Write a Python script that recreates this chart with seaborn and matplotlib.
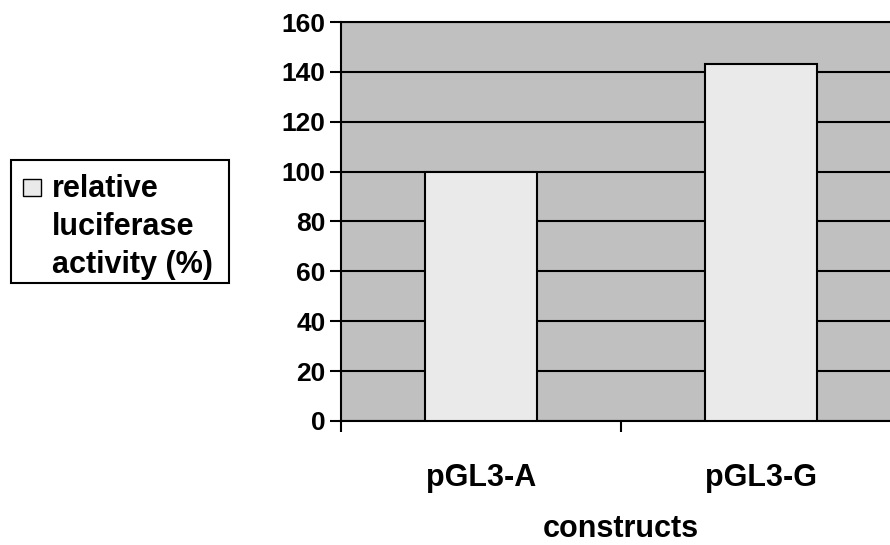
import matplotlib
matplotlib.use("Agg")
import matplotlib.pyplot as plt
from matplotlib.patches import Rectangle
import seaborn as sns
import pandas as pd

# values
constructs = ["pGL3-A", "pGL3-G"]
activity = [100, 143]
series_lines = ["relative", "luciferase", "activity (%)"]

sns.set_style("white")
plt.rcParams["font.family"] = ["Liberation Sans", "DejaVu Sans"]
plt.rcParams["font.weight"] = "bold"
plt.rcParams["text.color"] = "black"
plt.rcParams["xtick.color"] = "black"
plt.rcParams["ytick.color"] = "black"
plt.rcParams["axes.labelcolor"] = "black"

fs = 19     # y tick labels
fs_big = 22  # category labels, axis title, legend

W, H = 890, 545
bar_col = "#eaeaea"

df = pd.DataFrame({"construct": constructs, "activity": activity})

fig = plt.figure(figsize=(W / 100, H / 100), dpi=100)
ax = fig.add_axes([341 / W, 124 / H, 560 / W, 399 / H])
ax.set_facecolor("#c0c0c0")

sns.barplot(data=df, x="construct", y="activity", color=bar_col,
            edgecolor="black", linewidth=1.5, width=0.4, saturation=1, ax=ax, zorder=3)

ax.set_xlim(-0.5, 1.5)
ax.set_ylim(0, 160)
ax.set_yticks(range(0, 161, 20))
ax.yaxis.grid(True, color="black", linewidth=1.5, zorder=0)
ax.set_axisbelow(True)

ax.set_xticks([-0.5, 0.5, 1.5], minor=True)
ax.tick_params(axis="x", which="minor", bottom=True, length=8, width=1.5, color="black", direction="out")
ax.tick_params(axis="x", which="major", bottom=True, length=0, pad=30, labelsize=fs_big)
ax.tick_params(axis="y", left=True, length=8, width=1.5, color="black", direction="out", pad=3, labelsize=fs)
for lab in ax.get_xticklabels() + ax.get_yticklabels():
    lab.set_fontweight("bold")

for s in ["top", "right"]:
    ax.spines[s].set_visible(False)
ax.spines["left"].set_color("black")
ax.spines["left"].set_linewidth(1.5)
ax.spines["bottom"].set_color("black")
ax.spines["bottom"].set_linewidth(1.5)
ax.axhline(160, color="black", linewidth=1.5, clip_on=False, zorder=1)

ax.set_xlabel("constructs", fontsize=fs_big, fontweight="bold")
ax.xaxis.set_label_coords(0.5, -0.232)
ax.set_ylabel("")

# legend box on the left, drawn in pixel positions of the figure
def fx(px):
    return px / W

def fy(py):
    return 1 - py / H

fig.patches.append(Rectangle((fx(11), fy(283)), fx(229) - fx(11), fy(160) - fy(283),
                             transform=fig.transFigure, facecolor="white",
                             edgecolor="black", linewidth=1.5))
fig.patches.append(Rectangle((fx(23), fy(196)), fx(41) - fx(23), fy(179) - fy(196),
                             transform=fig.transFigure, facecolor=bar_col,
                             edgecolor="black", linewidth=1))
for i, line in enumerate(series_lines):
    fig.text(fx(52), fy(197 + 38 * i), line, fontsize=fs_big, fontweight="bold",
             ha="left", va="baseline")

fig.savefig("out.png", dpi=100)
